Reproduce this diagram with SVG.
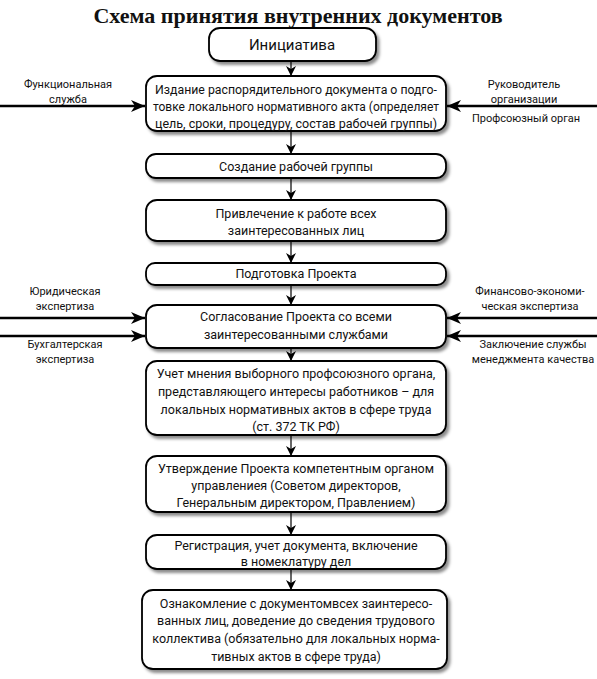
<svg xmlns="http://www.w3.org/2000/svg" width="597" height="679" viewBox="0 0 597 679">
<style>
.box{fill:#fff;stroke:#000;stroke-width:1.8;filter:url(#sh)}
.t{font-family:Roboto,"Liberation Sans",sans-serif;font-size:12.5px;fill:#111;text-anchor:middle}
.s{font-family:Roboto,"Liberation Sans",sans-serif;font-size:11px;fill:#111;text-anchor:middle}
.ttl{font-family:"Liberation Serif",serif;font-size:22px;font-weight:bold;text-anchor:middle;fill:#111}
.c{stroke:#000;stroke-width:1.2;fill:none;marker-end:url(#a)}
.w{stroke:#000;stroke-width:2.6;fill:none;marker-end:url(#b)}
</style>
<defs>
<filter id="sh" x="-10%" y="-20%" width="125%" height="150%">
<feDropShadow dx="2.5" dy="3" stdDeviation="1.8" flood-color="#000" flood-opacity="0.45"/>
</filter>
<marker id="a" markerUnits="userSpaceOnUse" markerWidth="10" markerHeight="10" refX="10" refY="5" orient="auto">
<path d="M0,0 L10,5 L0,10 L3,5 z" fill="#000"/>
</marker>
<marker id="b" markerUnits="userSpaceOnUse" markerWidth="14" markerHeight="12" refX="14" refY="6" orient="auto">
<path d="M0,0 L14,6 L0,12 L4,6 z" fill="#000"/>
</marker>
</defs>
<rect width="597" height="679" fill="#fff"/>
<text class="ttl" x="298" y="23">Схема принятия внутренних документов</text>

<g id="connectors">
<line class="c" x1="291" y1="61" x2="291" y2="76"/>
<line class="c" x1="291" y1="131" x2="291" y2="154"/>
<line class="c" x1="291" y1="178" x2="291" y2="200"/>
<line class="c" x1="291" y1="241" x2="291" y2="263"/>
<line class="c" x1="291" y1="285" x2="291" y2="305"/>
<line class="c" x1="291" y1="348" x2="291" y2="361"/>
<line class="c" x1="291" y1="435" x2="291" y2="456"/>
<line class="c" x1="291" y1="512" x2="291" y2="535"/>
<line class="c" x1="291" y1="569" x2="291" y2="590"/>
<line class="w" x1="0" y1="106" x2="145" y2="106"/>
<line class="w" x1="597" y1="106" x2="447" y2="106"/>
<line class="w" x1="0" y1="318" x2="145" y2="318"/>
<line class="w" x1="0" y1="336" x2="145" y2="336"/>
<line class="w" x1="597" y1="318" x2="447" y2="318"/>
<line class="w" x1="597" y1="336" x2="447" y2="336"/>
</g>

<g id="side-labels">
<text class="s" x="68" y="88">Функциональная</text>
<text class="s" x="68" y="103">служба</text>
<text class="s" x="524" y="88">Руководитель</text>
<text class="s" x="524" y="103">организации</text>
<text class="s" x="526" y="122">Профсоюзный орган</text>
<text class="s" x="65" y="295">Юридическая</text>
<text class="s" x="65" y="310">экспертиза</text>
<text class="s" x="65" y="348">Бухгалтерская</text>
<text class="s" x="65" y="363">экспертиза</text>
<text class="s" x="530" y="295">Финансово-экономи-</text>
<text class="s" x="530" y="310">ческая экспертиза</text>
<text class="s" x="533" y="348">Заключение службы</text>
<text class="s" x="533" y="363">менеджмента качества</text>
</g>

<g id="n1"><rect class="box" x="209" y="28" width="167" height="33" rx="11"/>
<text class="t" x="292" y="50" style="font-size:15px">Инициатива</text></g>

<g id="n2"><rect class="box" x="146" y="76" width="300" height="55" rx="11"/>
<text class="t" x="296" y="94" textLength="282" lengthAdjust="spacingAndGlyphs">Издание распорядительного документа о подго-</text>
<text class="t" x="296" y="111" textLength="286" lengthAdjust="spacingAndGlyphs">товке локального нормативного акта (определяет</text>
<text class="t" x="296" y="128" textLength="282" lengthAdjust="spacingAndGlyphs">цель, сроки, процедуру, состав рабочей группы)</text></g>

<g id="n3"><rect class="box" x="146" y="154" width="300" height="24" rx="10"/>
<text class="t" x="296" y="171">Создание рабочей группы</text></g>

<g id="n4"><rect class="box" x="146" y="200" width="300" height="41" rx="11"/>
<text class="t" x="296" y="218">Привлечение к работе всех</text>
<text class="t" x="296" y="235">заинтересованных лиц</text></g>

<g id="n5"><rect class="box" x="146" y="263" width="300" height="22" rx="9"/>
<text class="t" x="296" y="278">Подготовка Проекта</text></g>

<g id="n6"><rect class="box" x="146" y="305" width="300" height="43" rx="11"/>
<text class="t" x="296" y="321">Согласование Проекта со всеми</text>
<text class="t" x="296" y="339">заинтересованными службами</text></g>

<g id="n7"><rect class="box" x="146" y="361" width="300" height="74" rx="11"/>
<text class="t" x="296" y="378">Учет мнения выборного профсоюзного органа,</text>
<text class="t" x="296" y="396">представляющего интересы работников – для</text>
<text class="t" x="296" y="414">локальных нормативных актов в сфере труда</text>
<text class="t" x="296" y="431">(ст. 372 ТК РФ)</text></g>

<g id="n8"><rect class="box" x="146" y="456" width="300" height="56" rx="11"/>
<text class="t" x="296" y="473">Утверждение Проекта компетентным органом</text>
<text class="t" x="296" y="490">управлениея (Советом директоров,</text>
<text class="t" x="296" y="507">Генеральным директором, Правлением)</text></g>

<g id="n9"><rect class="box" x="146" y="535" width="300" height="34" rx="11"/>
<text class="t" x="296" y="550">Регистрация, учет документа, включение</text>
<text class="t" x="296" y="566">в номеклатуру дел</text></g>

<g id="n10"><rect class="box" x="142" y="590" width="305" height="79" rx="11"/>
<text class="t" x="296" y="608">Ознакомление с документомвсех заинтересо-</text>
<text class="t" x="296" y="625">ванных лиц, доведение до сведения трудового</text>
<text class="t" x="296" y="643">коллектива (обязательно для локальных норма-</text>
<text class="t" x="296" y="661">тивных актов в сфере труда)</text></g>
</svg>
